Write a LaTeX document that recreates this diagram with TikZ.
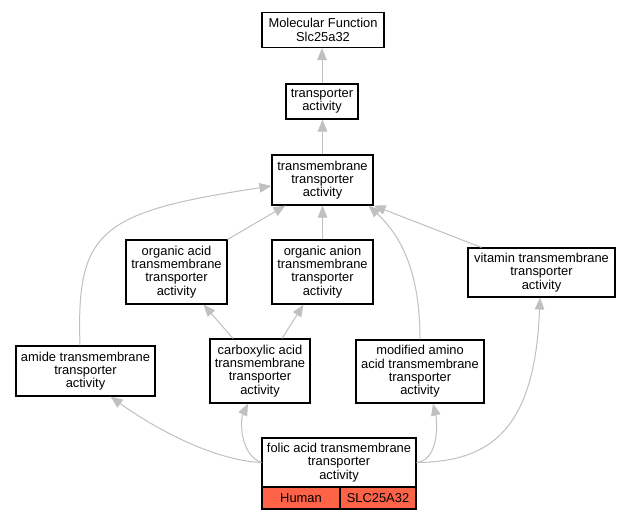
\documentclass[tikz,border=0pt]{standalone}
\usepackage{fontspec}
\setmainfont{Liberation Sans}
\usetikzlibrary{arrows.meta}
\definecolor{edgegray}{HTML}{C0C0C0}
\definecolor{tomatored}{HTML}{FF6347}
\begin{document}
\begin{tikzpicture}[x=1pt,y=-1pt,
  gobox/.style={draw=black,line width=1.1pt,fill=white,inner sep=0pt,align=center,
    font=\fontsize{12.9pt}{13.3pt}\selectfont},
  cellbox/.style={draw=black,line width=1.1pt,fill=tomatored,inner sep=0pt,align=center,
    font=\fontsize{12.9pt}{13.3pt}\selectfont,minimum height=22pt},
  isa/.style={draw=edgegray,line width=1pt,-{Triangle[length=12pt,width=9.5pt,fill=edgegray]}}
]
\useasboundingbox (0,0) rectangle (631,520);
\fill[white] (0,0) rectangle (631,520);

\node[gobox,minimum width=122pt,minimum height=35pt] (mf) at (323,30) {Molecular Function\\Slc25a32};
\node[gobox,minimum width=72pt,minimum height=35pt] (tr) at (322,101.5) {transporter\\activity};
\node[gobox,minimum width=101pt,minimum height=50pt] (tta) at (322.5,180) {transmembrane\\transporter\\activity};
\node[gobox,minimum width=101pt,minimum height=64pt] (oacid) at (176.5,272) {organic acid\\transmembrane\\transporter\\activity};
\node[gobox,minimum width=101pt,minimum height=64pt] (oanion) at (322.5,272) {organic anion\\transmembrane\\transporter\\activity};
\node[gobox,minimum width=147pt,minimum height=49pt] (vit) at (541.5,272.5) {vitamin transmembrane\\transporter\\activity};
\node[gobox,minimum width=139pt,minimum height=50pt] (amide) at (85.5,371) {amide transmembrane\\transporter\\activity};
\node[gobox,minimum width=100pt,minimum height=64pt] (carb) at (260,371) {carboxylic acid\\transmembrane\\transporter\\activity};
\node[gobox,minimum width=128pt,minimum height=63pt] (mod) at (420,371.5) {modified amino\\acid transmembrane\\transporter\\activity};
\node[gobox,minimum width=154pt,minimum height=49pt] (folic) at (339,462.5) {folic acid transmembrane\\transporter\\activity};
\node[cellbox,minimum width=78pt] (human) at (301,498) {Human};
\node[cellbox,minimum width=76pt] (slc) at (378,498) {SLC25A32};

\draw[isa] (tr.north) -- (tr.north |- mf.south);
\draw[isa] (tta.north) -- (tta.north |- tr.south);
\draw[isa] (oacid.north east) -- ([xshift=-37pt]tta.south);
\draw[isa] (oanion.north) -- (tta.south);
\draw[isa] ([xshift=-5.5pt]amide.north) .. controls (76,230) and (100,212) .. ([yshift=-6pt]tta.west);
\draw[isa] (mod.north) .. controls (420,270) and (400,235) .. ([xshift=-5pt]tta.south east);
\draw[isa] ([xshift=-60pt]vit.north) -- (tta.south east);
\draw[isa] ([xshift=-27pt]carb.north) -- ([xshift=27pt]oacid.south);
\draw[isa] ([xshift=22pt]carb.north) -- ([xshift=-19pt]oanion.south);
\draw[isa] (folic.west) .. controls (210,460) and (150,425) .. ([xshift=25pt]amide.south);
\draw[isa] (folic.west) .. controls (240,455) and (240,420) .. ([xshift=-12pt]carb.south);
\draw[isa] (folic.east) .. controls (440,460) and (437,420) .. ([xshift=13pt]mod.south);
\draw[isa] (folic.east) .. controls (490,462) and (535,430) .. ([xshift=-1.5pt]vit.south);
\end{tikzpicture}
\end{document}
